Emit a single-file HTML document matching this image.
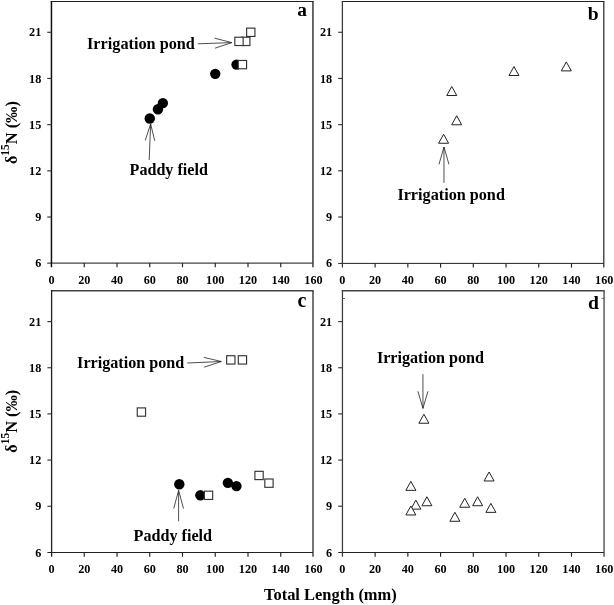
<!DOCTYPE html>
<html><head><meta charset="utf-8"><title>Chart</title>
<style>html,body{margin:0;padding:0;background:#fff;}svg{display:block;will-change:transform;}text{font-family:"Liberation Serif",serif;font-weight:bold;fill:#000;}</style>
</head>
<body>
<svg width="614" height="605" viewBox="0 0 614 605">
<rect width="614" height="605" fill="#fff"/>
<line x1="50.70" y1="1.45" x2="313.65" y2="1.45" stroke="#222" stroke-width="1.1"/>
<line x1="312.95" y1="1.45" x2="312.95" y2="267.30" stroke="#2a2a2a" stroke-width="1.4"/>
<line x1="47.25" y1="263.1" x2="312.95" y2="263.1" stroke="#444" stroke-width="1.3"/>
<line x1="51.45" y1="0.90" x2="51.45" y2="267.30" stroke="#111" stroke-width="1.5"/>
<line x1="84.25" y1="263.1" x2="84.25" y2="267.30" stroke="#222" stroke-width="1.15"/>
<line x1="117.00" y1="263.1" x2="117.00" y2="267.30" stroke="#222" stroke-width="1.15"/>
<line x1="149.75" y1="263.1" x2="149.75" y2="267.30" stroke="#222" stroke-width="1.15"/>
<line x1="182.50" y1="263.1" x2="182.50" y2="267.30" stroke="#222" stroke-width="1.15"/>
<line x1="215.25" y1="263.1" x2="215.25" y2="267.30" stroke="#222" stroke-width="1.15"/>
<line x1="248.00" y1="263.1" x2="248.00" y2="267.30" stroke="#222" stroke-width="1.15"/>
<line x1="280.75" y1="263.1" x2="280.75" y2="267.30" stroke="#222" stroke-width="1.15"/>
<text x="51.50" y="284.20" font-family="Liberation Serif, serif" font-weight="bold" font-size="12.2" text-anchor="middle">0</text>
<text x="84.25" y="284.20" font-family="Liberation Serif, serif" font-weight="bold" font-size="12.2" text-anchor="middle">20</text>
<text x="117.00" y="284.20" font-family="Liberation Serif, serif" font-weight="bold" font-size="12.2" text-anchor="middle">40</text>
<text x="149.75" y="284.20" font-family="Liberation Serif, serif" font-weight="bold" font-size="12.2" text-anchor="middle">60</text>
<text x="182.50" y="284.20" font-family="Liberation Serif, serif" font-weight="bold" font-size="12.2" text-anchor="middle">80</text>
<text x="215.25" y="284.20" font-family="Liberation Serif, serif" font-weight="bold" font-size="12.2" text-anchor="middle">100</text>
<text x="248.00" y="284.20" font-family="Liberation Serif, serif" font-weight="bold" font-size="12.2" text-anchor="middle">120</text>
<text x="280.75" y="284.20" font-family="Liberation Serif, serif" font-weight="bold" font-size="12.2" text-anchor="middle">140</text>
<text x="313.50" y="284.20" font-family="Liberation Serif, serif" font-weight="bold" font-size="12.2" text-anchor="middle">160</text>
<line x1="47.25" y1="217.02" x2="51.45" y2="217.02" stroke="#333" stroke-width="1.15"/>
<line x1="47.25" y1="170.84" x2="51.45" y2="170.84" stroke="#333" stroke-width="1.15"/>
<line x1="47.25" y1="124.65" x2="51.45" y2="124.65" stroke="#333" stroke-width="1.15"/>
<line x1="47.25" y1="78.47" x2="51.45" y2="78.47" stroke="#333" stroke-width="1.15"/>
<line x1="47.25" y1="32.29" x2="51.45" y2="32.29" stroke="#333" stroke-width="1.15"/>
<text x="41.30" y="267.40" font-family="Liberation Serif, serif" font-weight="bold" font-size="12.2" text-anchor="end">6</text>
<text x="41.30" y="221.22" font-family="Liberation Serif, serif" font-weight="bold" font-size="12.2" text-anchor="end">9</text>
<text x="41.30" y="175.04" font-family="Liberation Serif, serif" font-weight="bold" font-size="12.2" text-anchor="end">12</text>
<text x="41.30" y="128.85" font-family="Liberation Serif, serif" font-weight="bold" font-size="12.2" text-anchor="end">15</text>
<text x="41.30" y="82.67" font-family="Liberation Serif, serif" font-weight="bold" font-size="12.2" text-anchor="end">18</text>
<text x="41.30" y="36.49" font-family="Liberation Serif, serif" font-weight="bold" font-size="12.2" text-anchor="end">21</text>
<line x1="341.77" y1="1.45" x2="604.45" y2="1.45" stroke="#222" stroke-width="1.1"/>
<line x1="603.8" y1="1.45" x2="603.8" y2="267.60" stroke="#333" stroke-width="1.3"/>
<line x1="338.20" y1="263.4" x2="603.8" y2="263.4" stroke="#222" stroke-width="1.0"/>
<line x1="342.4" y1="0.90" x2="342.4" y2="267.60" stroke="#3a3a3a" stroke-width="1.25"/>
<line x1="375.12" y1="263.4" x2="375.12" y2="267.60" stroke="#222" stroke-width="1.15"/>
<line x1="407.85" y1="263.4" x2="407.85" y2="267.60" stroke="#222" stroke-width="1.15"/>
<line x1="440.57" y1="263.4" x2="440.57" y2="267.60" stroke="#222" stroke-width="1.15"/>
<line x1="473.30" y1="263.4" x2="473.30" y2="267.60" stroke="#222" stroke-width="1.15"/>
<line x1="506.03" y1="263.4" x2="506.03" y2="267.60" stroke="#222" stroke-width="1.15"/>
<line x1="538.75" y1="263.4" x2="538.75" y2="267.60" stroke="#222" stroke-width="1.15"/>
<line x1="571.48" y1="263.4" x2="571.48" y2="267.60" stroke="#222" stroke-width="1.15"/>
<text x="342.40" y="284.20" font-family="Liberation Serif, serif" font-weight="bold" font-size="12.2" text-anchor="middle">0</text>
<text x="375.12" y="284.20" font-family="Liberation Serif, serif" font-weight="bold" font-size="12.2" text-anchor="middle">20</text>
<text x="407.85" y="284.20" font-family="Liberation Serif, serif" font-weight="bold" font-size="12.2" text-anchor="middle">40</text>
<text x="440.57" y="284.20" font-family="Liberation Serif, serif" font-weight="bold" font-size="12.2" text-anchor="middle">60</text>
<text x="473.30" y="284.20" font-family="Liberation Serif, serif" font-weight="bold" font-size="12.2" text-anchor="middle">80</text>
<text x="506.03" y="284.20" font-family="Liberation Serif, serif" font-weight="bold" font-size="12.2" text-anchor="middle">100</text>
<text x="538.75" y="284.20" font-family="Liberation Serif, serif" font-weight="bold" font-size="12.2" text-anchor="middle">120</text>
<text x="571.48" y="284.20" font-family="Liberation Serif, serif" font-weight="bold" font-size="12.2" text-anchor="middle">140</text>
<text x="604.20" y="284.20" font-family="Liberation Serif, serif" font-weight="bold" font-size="12.2" text-anchor="middle">160</text>
<line x1="338.20" y1="217.02" x2="342.4" y2="217.02" stroke="#333" stroke-width="1.15"/>
<line x1="338.20" y1="170.84" x2="342.4" y2="170.84" stroke="#333" stroke-width="1.15"/>
<line x1="338.20" y1="124.65" x2="342.4" y2="124.65" stroke="#333" stroke-width="1.15"/>
<line x1="338.20" y1="78.47" x2="342.4" y2="78.47" stroke="#333" stroke-width="1.15"/>
<line x1="338.20" y1="32.29" x2="342.4" y2="32.29" stroke="#333" stroke-width="1.15"/>
<text x="332.20" y="267.40" font-family="Liberation Serif, serif" font-weight="bold" font-size="12.2" text-anchor="end">6</text>
<text x="332.20" y="221.22" font-family="Liberation Serif, serif" font-weight="bold" font-size="12.2" text-anchor="end">9</text>
<text x="332.20" y="175.04" font-family="Liberation Serif, serif" font-weight="bold" font-size="12.2" text-anchor="end">12</text>
<text x="332.20" y="128.85" font-family="Liberation Serif, serif" font-weight="bold" font-size="12.2" text-anchor="end">15</text>
<text x="332.20" y="82.67" font-family="Liberation Serif, serif" font-weight="bold" font-size="12.2" text-anchor="end">18</text>
<text x="332.20" y="36.49" font-family="Liberation Serif, serif" font-weight="bold" font-size="12.2" text-anchor="end">21</text>
<line x1="50.95" y1="290.8" x2="313.57" y2="290.8" stroke="#444" stroke-width="1.4"/>
<line x1="313.0" y1="290.8" x2="313.0" y2="556.70" stroke="#111" stroke-width="1.15"/>
<line x1="47.40" y1="552.5" x2="313.0" y2="552.5" stroke="#222" stroke-width="1.0"/>
<line x1="51.6" y1="290.10" x2="51.6" y2="556.70" stroke="#222" stroke-width="1.3"/>
<line x1="84.25" y1="552.5" x2="84.25" y2="556.70" stroke="#222" stroke-width="1.15"/>
<line x1="117.00" y1="552.5" x2="117.00" y2="556.70" stroke="#222" stroke-width="1.15"/>
<line x1="149.75" y1="552.5" x2="149.75" y2="556.70" stroke="#222" stroke-width="1.15"/>
<line x1="182.50" y1="552.5" x2="182.50" y2="556.70" stroke="#222" stroke-width="1.15"/>
<line x1="215.25" y1="552.5" x2="215.25" y2="556.70" stroke="#222" stroke-width="1.15"/>
<line x1="248.00" y1="552.5" x2="248.00" y2="556.70" stroke="#222" stroke-width="1.15"/>
<line x1="280.75" y1="552.5" x2="280.75" y2="556.70" stroke="#222" stroke-width="1.15"/>
<text x="51.50" y="573.40" font-family="Liberation Serif, serif" font-weight="bold" font-size="12.2" text-anchor="middle">0</text>
<text x="84.25" y="573.40" font-family="Liberation Serif, serif" font-weight="bold" font-size="12.2" text-anchor="middle">20</text>
<text x="117.00" y="573.40" font-family="Liberation Serif, serif" font-weight="bold" font-size="12.2" text-anchor="middle">40</text>
<text x="149.75" y="573.40" font-family="Liberation Serif, serif" font-weight="bold" font-size="12.2" text-anchor="middle">60</text>
<text x="182.50" y="573.40" font-family="Liberation Serif, serif" font-weight="bold" font-size="12.2" text-anchor="middle">80</text>
<text x="215.25" y="573.40" font-family="Liberation Serif, serif" font-weight="bold" font-size="12.2" text-anchor="middle">100</text>
<text x="248.00" y="573.40" font-family="Liberation Serif, serif" font-weight="bold" font-size="12.2" text-anchor="middle">120</text>
<text x="280.75" y="573.40" font-family="Liberation Serif, serif" font-weight="bold" font-size="12.2" text-anchor="middle">140</text>
<text x="313.50" y="573.40" font-family="Liberation Serif, serif" font-weight="bold" font-size="12.2" text-anchor="middle">160</text>
<line x1="47.40" y1="506.24" x2="51.6" y2="506.24" stroke="#333" stroke-width="1.15"/>
<line x1="47.40" y1="460.07" x2="51.6" y2="460.07" stroke="#333" stroke-width="1.15"/>
<line x1="47.40" y1="413.91" x2="51.6" y2="413.91" stroke="#333" stroke-width="1.15"/>
<line x1="47.40" y1="367.74" x2="51.6" y2="367.74" stroke="#333" stroke-width="1.15"/>
<line x1="47.40" y1="321.58" x2="51.6" y2="321.58" stroke="#333" stroke-width="1.15"/>
<text x="41.30" y="556.60" font-family="Liberation Serif, serif" font-weight="bold" font-size="12.2" text-anchor="end">6</text>
<text x="41.30" y="510.44" font-family="Liberation Serif, serif" font-weight="bold" font-size="12.2" text-anchor="end">9</text>
<text x="41.30" y="464.27" font-family="Liberation Serif, serif" font-weight="bold" font-size="12.2" text-anchor="end">12</text>
<text x="41.30" y="418.11" font-family="Liberation Serif, serif" font-weight="bold" font-size="12.2" text-anchor="end">15</text>
<text x="41.30" y="371.94" font-family="Liberation Serif, serif" font-weight="bold" font-size="12.2" text-anchor="end">18</text>
<text x="41.30" y="325.78" font-family="Liberation Serif, serif" font-weight="bold" font-size="12.2" text-anchor="end">21</text>
<line x1="341.82" y1="290.8" x2="604.70" y2="290.8" stroke="#444" stroke-width="1.4"/>
<line x1="604.05" y1="290.8" x2="604.05" y2="556.70" stroke="#444" stroke-width="1.3"/>
<line x1="338.25" y1="552.5" x2="604.05" y2="552.5" stroke="#222" stroke-width="1.05"/>
<line x1="342.45" y1="290.10" x2="342.45" y2="556.70" stroke="#3a3a3a" stroke-width="1.25"/>
<line x1="375.12" y1="552.5" x2="375.12" y2="556.70" stroke="#222" stroke-width="1.15"/>
<line x1="407.85" y1="552.5" x2="407.85" y2="556.70" stroke="#222" stroke-width="1.15"/>
<line x1="440.57" y1="552.5" x2="440.57" y2="556.70" stroke="#222" stroke-width="1.15"/>
<line x1="473.30" y1="552.5" x2="473.30" y2="556.70" stroke="#222" stroke-width="1.15"/>
<line x1="506.03" y1="552.5" x2="506.03" y2="556.70" stroke="#222" stroke-width="1.15"/>
<line x1="538.75" y1="552.5" x2="538.75" y2="556.70" stroke="#222" stroke-width="1.15"/>
<line x1="571.48" y1="552.5" x2="571.48" y2="556.70" stroke="#222" stroke-width="1.15"/>
<text x="342.40" y="573.40" font-family="Liberation Serif, serif" font-weight="bold" font-size="12.2" text-anchor="middle">0</text>
<text x="375.12" y="573.40" font-family="Liberation Serif, serif" font-weight="bold" font-size="12.2" text-anchor="middle">20</text>
<text x="407.85" y="573.40" font-family="Liberation Serif, serif" font-weight="bold" font-size="12.2" text-anchor="middle">40</text>
<text x="440.57" y="573.40" font-family="Liberation Serif, serif" font-weight="bold" font-size="12.2" text-anchor="middle">60</text>
<text x="473.30" y="573.40" font-family="Liberation Serif, serif" font-weight="bold" font-size="12.2" text-anchor="middle">80</text>
<text x="506.03" y="573.40" font-family="Liberation Serif, serif" font-weight="bold" font-size="12.2" text-anchor="middle">100</text>
<text x="538.75" y="573.40" font-family="Liberation Serif, serif" font-weight="bold" font-size="12.2" text-anchor="middle">120</text>
<text x="571.48" y="573.40" font-family="Liberation Serif, serif" font-weight="bold" font-size="12.2" text-anchor="middle">140</text>
<text x="604.20" y="573.40" font-family="Liberation Serif, serif" font-weight="bold" font-size="12.2" text-anchor="middle">160</text>
<line x1="338.25" y1="506.24" x2="342.45" y2="506.24" stroke="#333" stroke-width="1.15"/>
<line x1="338.25" y1="460.07" x2="342.45" y2="460.07" stroke="#333" stroke-width="1.15"/>
<line x1="338.25" y1="413.91" x2="342.45" y2="413.91" stroke="#333" stroke-width="1.15"/>
<line x1="338.25" y1="367.74" x2="342.45" y2="367.74" stroke="#333" stroke-width="1.15"/>
<line x1="338.25" y1="321.58" x2="342.45" y2="321.58" stroke="#333" stroke-width="1.15"/>
<text x="332.20" y="556.60" font-family="Liberation Serif, serif" font-weight="bold" font-size="12.2" text-anchor="end">6</text>
<text x="332.20" y="510.44" font-family="Liberation Serif, serif" font-weight="bold" font-size="12.2" text-anchor="end">9</text>
<text x="332.20" y="464.27" font-family="Liberation Serif, serif" font-weight="bold" font-size="12.2" text-anchor="end">12</text>
<text x="332.20" y="418.11" font-family="Liberation Serif, serif" font-weight="bold" font-size="12.2" text-anchor="end">15</text>
<text x="332.20" y="371.94" font-family="Liberation Serif, serif" font-weight="bold" font-size="12.2" text-anchor="end">18</text>
<text x="332.20" y="325.78" font-family="Liberation Serif, serif" font-weight="bold" font-size="12.2" text-anchor="end">21</text>
<circle cx="149.75" cy="118.50" r="5.2" fill="#000"/>
<circle cx="157.94" cy="109.26" r="5.2" fill="#000"/>
<circle cx="162.85" cy="103.10" r="5.2" fill="#000"/>
<circle cx="215.25" cy="73.85" r="5.2" fill="#000"/>
<circle cx="236.54" cy="64.62" r="5.2" fill="#000"/>
<rect x="241.61" y="37.22" width="8.3" height="8.3" fill="#fff" stroke="#333" stroke-width="1.15"/>
<rect x="234.84" y="37.22" width="8.3" height="8.3" fill="#fff" stroke="#333" stroke-width="1.15"/>
<rect x="246.63" y="28.14" width="8.3" height="8.3" fill="#fff" stroke="#333" stroke-width="1.15"/>
<rect x="238.28" y="60.47" width="8.3" height="8.3" fill="#fff" stroke="#333" stroke-width="1.15"/>
<path d="M197.80 43.80 L231.80 42.60 M214.99 48.20 L231.80 42.60 L214.63 38.20" fill="none" stroke="#222" stroke-width="0.8"/>
<path d="M149.20 160.00 L150.65 124.00 M154.73 140.78 L150.65 124.00 L145.24 140.40" fill="none" stroke="#222" stroke-width="0.8"/>
<text x="87.0" y="48.7" font-family="Liberation Serif, serif" font-weight="bold" font-size="16.25">Irrigation pond</text>
<text x="129.6" y="174.6" font-family="Liberation Serif, serif" font-weight="bold" font-size="16.1">Paddy field</text>
<text x="297.2" y="16.4" font-family="Liberation Serif, serif" font-weight="bold" font-size="19.4">a</text>
<path d="M443.60 134.25 L448.60 143.25 L438.60 143.25 Z" fill="#fff" stroke="#222" stroke-width="1.0"/>
<path d="M451.78 86.53 L456.78 95.53 L446.78 95.53 Z" fill="#fff" stroke="#222" stroke-width="1.0"/>
<path d="M456.69 115.77 L461.69 124.77 L451.69 124.77 Z" fill="#fff" stroke="#222" stroke-width="1.0"/>
<path d="M513.96 66.51 L518.96 75.51 L508.96 75.51 Z" fill="#fff" stroke="#222" stroke-width="1.0"/>
<path d="M566.32 61.89 L571.32 70.89 L561.32 70.89 Z" fill="#fff" stroke="#222" stroke-width="1.0"/>
<text x="587.8" y="19.5" font-family="Liberation Serif, serif" font-weight="bold" font-size="19.6">b</text>
<text x="397.4" y="199.8" font-family="Liberation Serif, serif" font-weight="bold" font-size="16.2">Irrigation pond</text>
<path d="M443.98 182.90 L443.98 147.00 M448.98 164.40 L443.98 147.00 L438.98 164.40" fill="none" stroke="#222" stroke-width="0.8"/>
<circle cx="179.31" cy="484.23" r="5.2" fill="#000"/>
<circle cx="200.35" cy="495.31" r="5.2" fill="#000"/>
<circle cx="227.86" cy="482.85" r="5.2" fill="#000"/>
<circle cx="236.46" cy="486.08" r="5.2" fill="#000"/>
<rect x="137.25" y="407.91" width="8.3" height="8.3" fill="#fff" stroke="#333" stroke-width="1.15"/>
<rect x="226.66" y="355.74" width="8.3" height="8.3" fill="#fff" stroke="#333" stroke-width="1.15"/>
<rect x="238.28" y="355.74" width="8.3" height="8.3" fill="#fff" stroke="#333" stroke-width="1.15"/>
<rect x="204.39" y="491.16" width="8.3" height="8.3" fill="#fff" stroke="#333" stroke-width="1.15"/>
<rect x="254.90" y="471.31" width="8.3" height="8.3" fill="#fff" stroke="#333" stroke-width="1.15"/>
<rect x="264.81" y="479.00" width="8.3" height="8.3" fill="#fff" stroke="#333" stroke-width="1.15"/>
<text x="77.1" y="367.8" font-family="Liberation Serif, serif" font-weight="bold" font-size="16.15">Irrigation pond</text>
<text x="133.6" y="541.4" font-family="Liberation Serif, serif" font-weight="bold" font-size="16.15">Paddy field</text>
<path d="M187.30 363.00 L221.30 361.50 M204.23 367.16 L221.30 361.50 L203.80 357.37" fill="none" stroke="#222" stroke-width="0.8"/>
<path d="M178.60 521.30 L178.60 490.40 M183.50 508.60 L178.60 490.40 L173.70 508.60" fill="none" stroke="#222" stroke-width="0.8"/>
<text x="297.5" y="306.6" font-family="Liberation Serif, serif" font-weight="bold" font-size="20">c</text>
<line x1="342.5" y1="298.5" x2="345" y2="298.5" stroke="#555" stroke-width="0.9"/>
<line x1="601.7" y1="298.4" x2="604" y2="298.4" stroke="#555" stroke-width="0.9"/>
<path d="M423.90 414.26 L428.90 423.26 L418.90 423.26 Z" fill="#fff" stroke="#222" stroke-width="1.0"/>
<path d="M410.86 481.35 L415.86 490.35 L405.86 490.35 Z" fill="#fff" stroke="#222" stroke-width="1.0"/>
<path d="M415.85 500.13 L420.85 509.13 L410.85 509.13 Z" fill="#fff" stroke="#222" stroke-width="1.0"/>
<path d="M410.86 505.98 L415.86 514.98 L405.86 514.98 Z" fill="#fff" stroke="#222" stroke-width="1.0"/>
<path d="M426.91 496.74 L431.91 505.74 L421.91 505.74 Z" fill="#fff" stroke="#222" stroke-width="1.0"/>
<path d="M454.89 512.28 L459.89 521.28 L449.89 521.28 Z" fill="#fff" stroke="#222" stroke-width="1.0"/>
<path d="M464.71 498.28 L469.71 507.28 L459.71 507.28 Z" fill="#fff" stroke="#222" stroke-width="1.0"/>
<path d="M477.63 496.74 L482.63 505.74 L472.63 505.74 Z" fill="#fff" stroke="#222" stroke-width="1.0"/>
<path d="M489.09 471.97 L494.09 480.97 L484.09 480.97 Z" fill="#fff" stroke="#222" stroke-width="1.0"/>
<path d="M490.89 503.36 L495.89 512.36 L485.89 512.36 Z" fill="#fff" stroke="#222" stroke-width="1.0"/>
<text x="376.9" y="362.5" font-family="Liberation Serif, serif" font-weight="bold" font-size="16.15">Irrigation pond</text>
<path d="M422.95 374.20 L422.95 408.40 M417.95 391.30 L422.95 408.40 L427.95 391.30" fill="none" stroke="#222" stroke-width="0.8"/>
<text x="587.9" y="308.8" font-family="Liberation Serif, serif" font-weight="bold" font-size="19.6">d</text>
<text x="264.0" y="600.4" font-family="Liberation Serif, serif" font-weight="bold" font-size="16.45">Total Length (mm)</text>
<text transform="translate(17.1 132.65) rotate(-90)" font-family="Liberation Serif, serif" font-weight="bold" font-size="16.3" text-anchor="middle">δ<tspan dy="-8" font-size="11.5">15</tspan><tspan dy="8">N (‰)</tspan></text>
<text transform="translate(17.1 421.3) rotate(-90)" font-family="Liberation Serif, serif" font-weight="bold" font-size="16.3" text-anchor="middle">δ<tspan dy="-8" font-size="11.5">15</tspan><tspan dy="8">N (‰)</tspan></text>
</svg>
</body></html>
